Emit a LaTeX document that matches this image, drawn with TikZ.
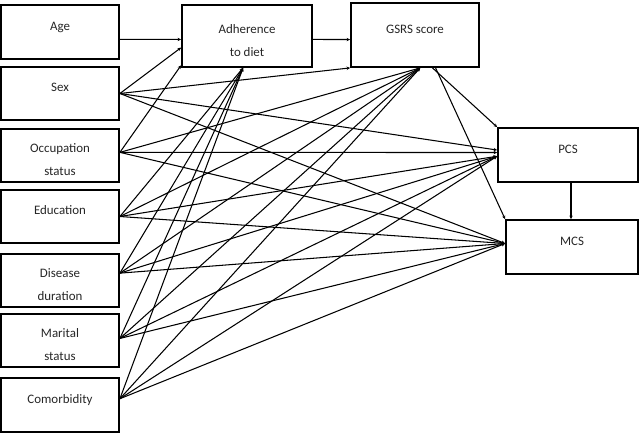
\documentclass[tikz,border=0pt]{standalone}
\usepackage{fontspec}
\setmainfont{Carlito}
\usetikzlibrary{arrows.meta}
\tikzset{
    varbox/.style={draw, line width=1.3pt, minimum width=2.95cm, minimum height=1.33cm,
        align=center, inner sep=0pt, text=black!85,
        font=\fontsize{9.2}{16.3}\selectfont},
    oneline/.style={text height=7pt, text depth=9.6pt},
    twoline/.style={text height=28.5pt, text depth=0pt},
    path/.style={-{Stealth[length=2.5pt,width=2.4pt]}, line width=0.75pt},
}

\begin{document}
\begin{tikzpicture}
        \useasboundingbox (0, 0) rectangle (16, 10.825);
        % predictors
        \node[varbox, oneline] (age) at (1.5, 10.025) {Age};
        \node[varbox, oneline] (sex) at (1.5, 8.4875) {Sex};
        \node[varbox, twoline] (occ) at (1.5, 6.9375) {Occupation\\status};
        \node[varbox, oneline] (edu) at (1.5, 5.4125) {Education};
        \node[varbox, twoline] (dis) at (1.5, 3.8125) {Disease\\duration};
        \node[varbox, twoline] (mar) at (1.5, 2.3125) {Marital\\status};
        \node[varbox, oneline] (com) at (1.5, 0.7) {Comorbidity};
        % mediators and outcomes
        \node[varbox, twoline, minimum width=3.25cm, minimum height=1.55cm] (adh) at (6.175, 9.925) {Adherence\\to diet};
        \node[varbox, oneline, minimum width=3.2cm, minimum height=1.6cm] (gsrs) at (10.375, 9.95) {GSRS score};
        \node[varbox, oneline, minimum width=3.5cm, minimum height=1.35cm] (pcs) at (14.2, 6.95) {PCS};
        \node[varbox, oneline, minimum width=3.3cm, minimum height=1.35cm] (mcs) at (14.3, 4.65) {MCS};

        \draw[path] (age.-7.7) -- (adh.183.5);
        \draw[path] (adh.-3.5) -- (gsrs.184.5);

        \draw[path] (sex.east) -- (adh.190.5);
        \draw[path] (sex.east) -- (gsrs.south west);
        \draw[path] (sex.east) -- (pcs.176);
        \draw[path] (sex.east) -- (mcs.177);

        \draw[path] (occ.3.4) -- (adh.204);
        \draw[path] (occ.3.4) -- (gsrs.-81);
        \draw[path] (occ.3.4) -- (pcs.178);
        \draw[path] (occ.3.4) -- (mcs.177);

        \foreach \src/\ang in {edu/0, dis/7.2, mar/2.4, com/6.8} {
            \draw[path] (\src.\ang) -- (adh.263);
            \draw[path] (\src.\ang) -- (gsrs.-81);
            \draw[path] (\src.\ang) -- (pcs.181);
            \draw[path] (\src.\ang) -- (mcs.177);
        }

        \draw[path] (gsrs.-62) -- (pcs.north west);
        \draw[path] (gsrs.-58) -- (mcs.north west);
        \draw[path] (pcs.south) ++(0.075, 0) coordinate (pcsout) -- (pcsout |- mcs.north);
\end{tikzpicture}
\end{document}
